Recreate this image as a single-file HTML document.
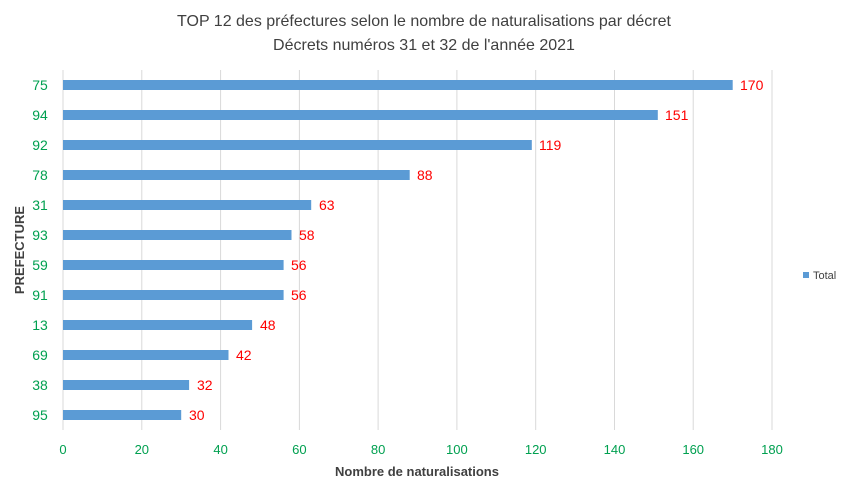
<!DOCTYPE html>
<html><head><meta charset="utf-8"><style>
body{margin:0;background:#fff}
svg text{font-family:"Liberation Sans",sans-serif}
</style></head><body>
<svg width="849" height="486" xmlns="http://www.w3.org/2000/svg">
<rect width="849" height="486" fill="#fff"/>
<text x="424" y="26" font-size="16" fill="#404040" text-anchor="middle">TOP 12 des préfectures selon le nombre de naturalisations par décret</text>
<text x="424" y="50" font-size="16" fill="#404040" text-anchor="middle">Décrets numéros 31 et 32 de l'année 2021</text>
<g stroke="#d9d9d9" stroke-width="1">
<line x1="63" y1="70" x2="63" y2="430"/>
<line x1="141.8" y1="70" x2="141.8" y2="430"/>
<line x1="220.6" y1="70" x2="220.6" y2="430"/>
<line x1="299.4" y1="70" x2="299.4" y2="430"/>
<line x1="378.1" y1="70" x2="378.1" y2="430"/>
<line x1="456.9" y1="70" x2="456.9" y2="430"/>
<line x1="535.7" y1="70" x2="535.7" y2="430"/>
<line x1="614.5" y1="70" x2="614.5" y2="430"/>
<line x1="693.2" y1="70" x2="693.2" y2="430"/>
<line x1="772" y1="70" x2="772" y2="430"/>
</g>
<g fill="#5b9bd5">
<rect x="63" y="80" width="669.7" height="10"/>
<rect x="63" y="110" width="594.8" height="10"/>
<rect x="63" y="140" width="468.8" height="10"/>
<rect x="63" y="170" width="346.7" height="10"/>
<rect x="63" y="200" width="248.2" height="10"/>
<rect x="63" y="230" width="228.5" height="10"/>
<rect x="63" y="260" width="220.6" height="10"/>
<rect x="63" y="290" width="220.6" height="10"/>
<rect x="63" y="320" width="189.1" height="10"/>
<rect x="63" y="350" width="165.5" height="10"/>
<rect x="63" y="380" width="126.1" height="10"/>
<rect x="63" y="410" width="118.2" height="10"/>
</g>
<g font-size="14" fill="#ff0000">
<text x="740" y="90">170</text>
<text x="665" y="120">151</text>
<text x="539" y="150">119</text>
<text x="417" y="180">88</text>
<text x="319" y="210">63</text>
<text x="299" y="240">58</text>
<text x="291" y="270">56</text>
<text x="291" y="300">56</text>
<text x="260" y="330">48</text>
<text x="236" y="360">42</text>
<text x="197" y="390">32</text>
<text x="189" y="420">30</text>
</g>
<g font-size="14" fill="#00a050" text-anchor="middle">
<text x="40" y="90">75</text><text x="40" y="120">94</text><text x="40" y="150">92</text>
<text x="40" y="180">78</text><text x="40" y="210">31</text><text x="40" y="240">93</text>
<text x="40" y="270">59</text><text x="40" y="300">91</text><text x="40" y="330">13</text>
<text x="40" y="360">69</text><text x="40" y="390">38</text><text x="40" y="420">95</text>
</g>
<g font-size="13" fill="#00a050" text-anchor="middle">
<text x="63" y="454">0</text><text x="141.8" y="454">20</text><text x="220.6" y="454">40</text>
<text x="299.4" y="454">60</text><text x="378.1" y="454">80</text><text x="456.9" y="454">100</text>
<text x="535.7" y="454">120</text><text x="614.5" y="454">140</text><text x="693.2" y="454">160</text>
<text x="772" y="454">180</text>
</g>
<text x="417" y="476" font-size="13" font-weight="bold" fill="#404040" text-anchor="middle">Nombre de naturalisations</text>
<text transform="translate(24,250) rotate(-90)" font-size="13" font-weight="bold" fill="#404040" text-anchor="middle">PREFECTURE</text>
<rect x="803" y="272" width="6" height="6" fill="#5b9bd5"/>
<text x="813" y="279" font-size="11" fill="#404040">Total</text>
</svg>
</body></html>
